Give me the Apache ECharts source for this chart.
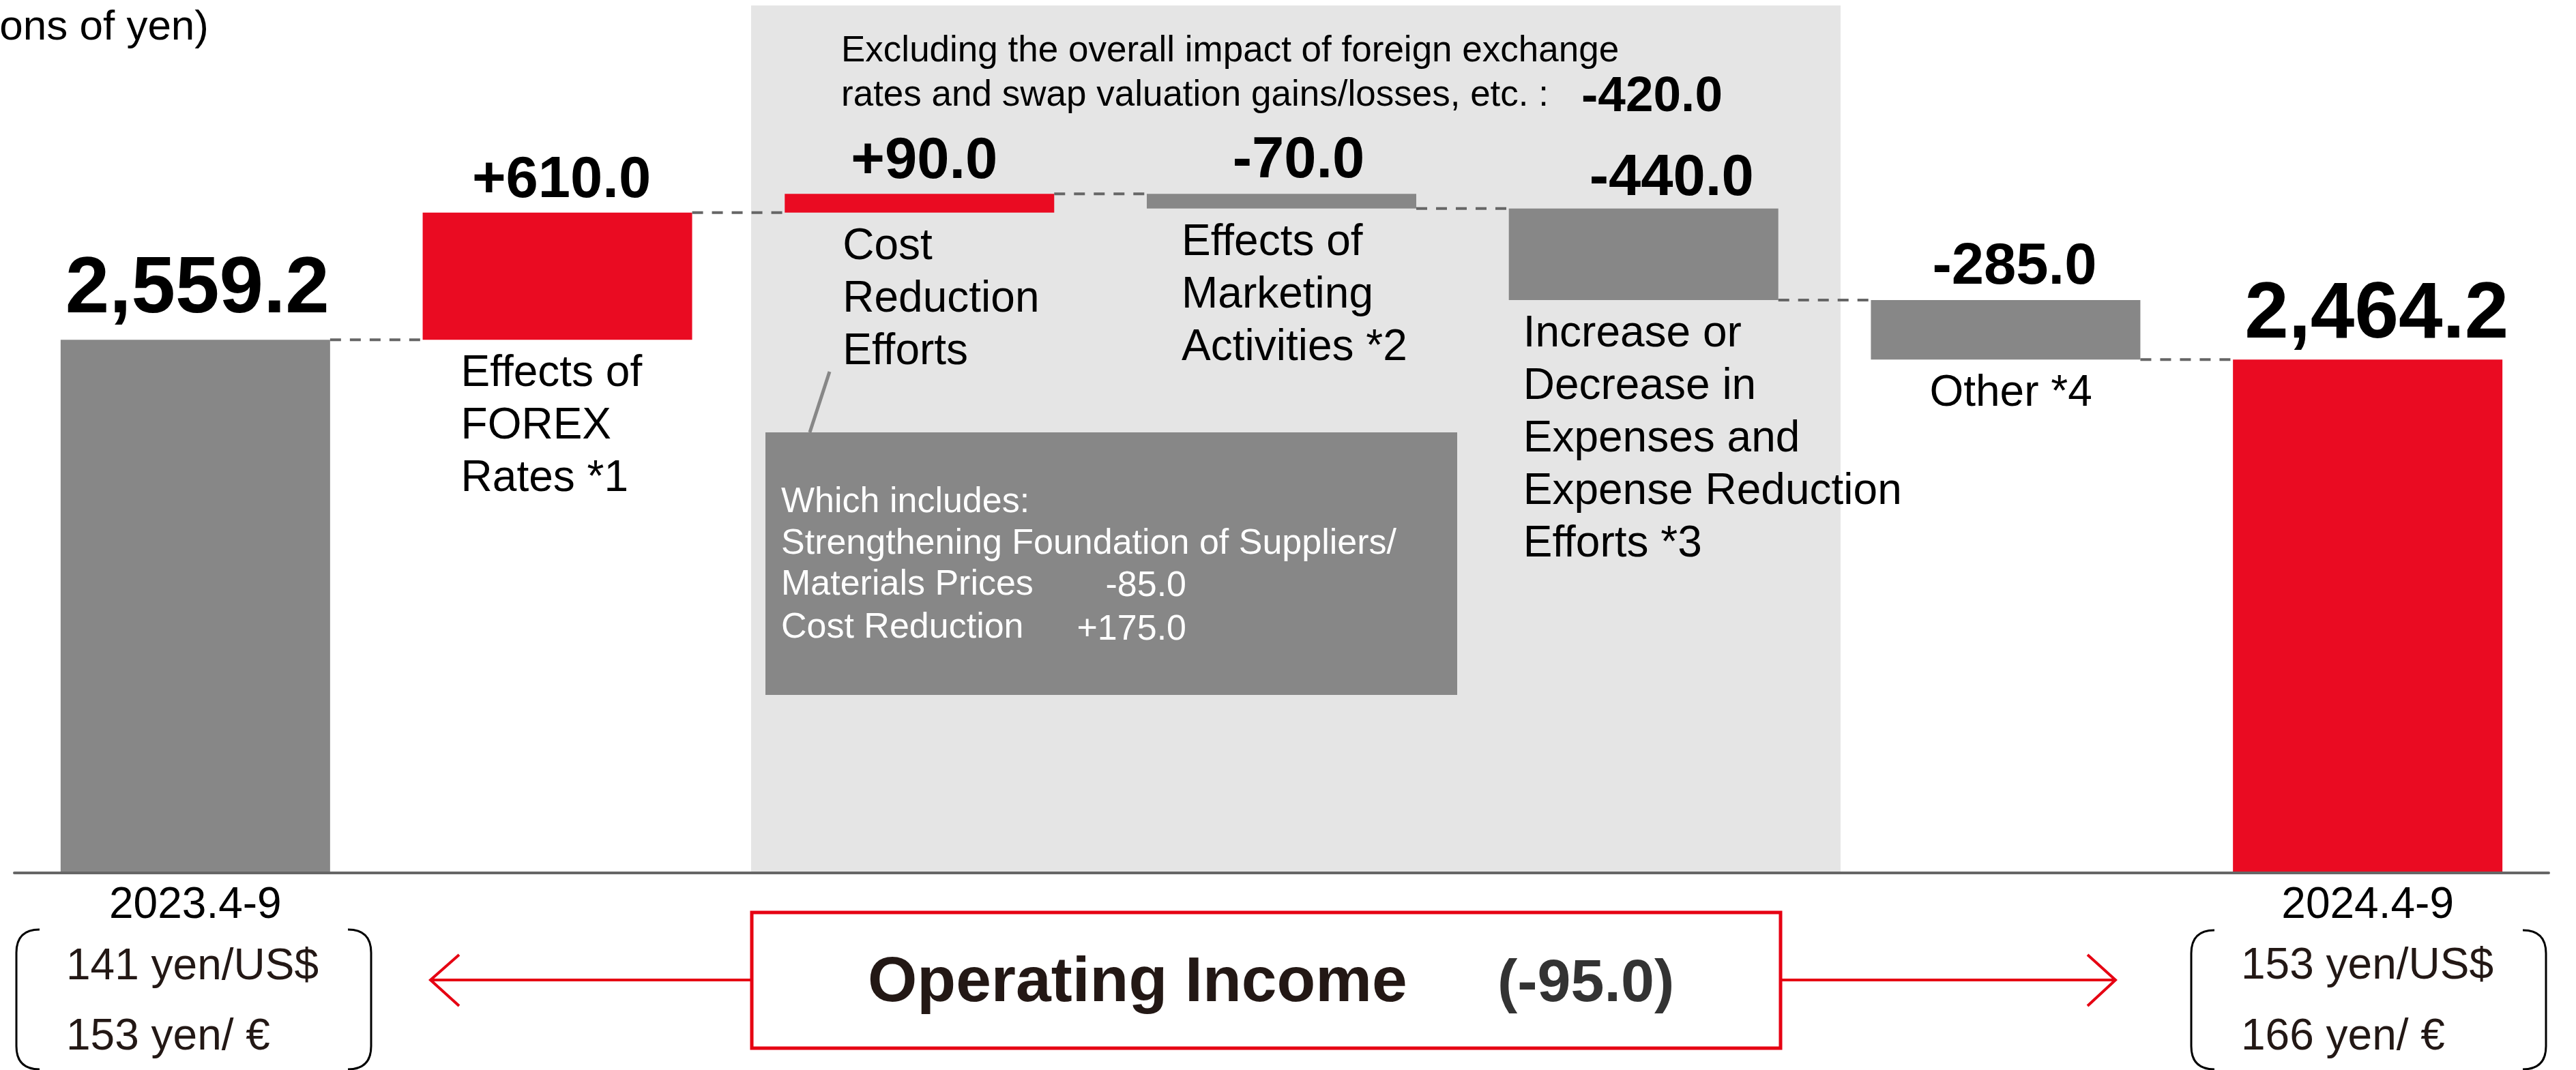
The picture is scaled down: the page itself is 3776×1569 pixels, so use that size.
<!DOCTYPE html>
<html>
<head>
<meta charset="utf-8">
<script src="https://cdn.jsdelivr.net/npm/echarts@6/dist/echarts.min.js"></script>
<style>
html, body { margin: 0; padding: 0; background: #fff; }
#chart { width: 3776px; height: 1569px; }
</style>
</head>
<body>
<div id="chart"></div>
<script>
// data
var periods = ['2023.4-9', '2024.4-9'];
var factors = ['Effects of\nFOREX\nRates *1', 'Cost\nReduction\nEfforts', 'Effects of\nMarketing\nActivities *2',
	'Increase or\nDecrease in\nExpenses and\nExpense Reduction\nEfforts *3', 'Other *4'];
var startValue = 2559.2;
var endValue = 2464.2;
var changes = [610.0, 90.0, -70.0, -440.0, -285.0];
var excludingFx = -420.0;
var costItems = ['Strengthening Foundation of Suppliers/\nMaterials Prices', 'Cost Reduction'];
var costValues = [-85.0, 175.0];
var rates2023 = ['141 yen/US$', '153 yen/ €'];
var rates2024 = ['153 yen/US$', '166 yen/ €'];

var FONT = '"Liberation Sans", Arial, sans-serif';
var RED = '#EA0B22';
var GRAY = '#878787';
var BAR_W = 395;

// label nudges (px)
var valueDx = [3, 6, 7, 25, 41, 13, 13];
var valueDy = [-14, -4, -4, -5, -1, -5, -6];
var nameDx = [56, 85, 51, 21, 86];

var categories = [periods[0]].concat(factors, [periods[1]]);

function fmt(v, signed) {
	var s = Math.abs(v).toFixed(1).replace(/\B(?=(\d{3})+(?!\d))/g, ',');
	if (signed) return (v < 0 ? '-' : '+') + s;
	return s;
}

var baseData = [];
var visData = [];
var links = [];
var cum = startValue;

baseData.push({value: 0, label: {show: false}});
visData.push({
	value: startValue,
	itemStyle: {color: GRAY},
	label: {show: true, formatter: fmt(startValue), fontSize: 116, lineHeight: 116, fontWeight: 'bold',
		position: [BAR_W / 2 + valueDx[0], valueDy[0]]}
});
links.push([0, cum]);

for (var i = 0; i < changes.length; i++) {
	var d = changes[i];
	var base = d > 0 ? cum : cum + d;
	baseData.push({
		value: base,
		label: {show: true, formatter: factors[i], position: [nameDx[i], 12],
			align: 'left', verticalAlign: 'top', fontSize: 64, lineHeight: 77, color: '#000'}
	});
	visData.push({
		value: Math.abs(d),
		itemStyle: {color: d > 0 ? RED : GRAY},
		label: {show: true, formatter: fmt(d, true), fontSize: 85, lineHeight: 85, fontWeight: 'bold',
			position: [BAR_W / 2 + valueDx[i + 1], valueDy[i + 1]]}
	});
	cum = cum + d;
	links.push([i + 1, cum]);
}

baseData.push({value: 0, label: {show: false}});
visData.push({
	value: endValue,
	itemStyle: {color: RED},
	label: {show: true, formatter: fmt(endValue), fontSize: 116, lineHeight: 116, fontWeight: 'bold',
		position: [BAR_W / 2 + valueDx[6], valueDy[6]]}
});

function txt(x, baseline, s, size, o) {
	o = o || {};
	return {
		type: 'text', x: x, y: baseline - 0.33 * size, z: 20,
		style: {text: s, fontSize: size, fontFamily: FONT, fontWeight: o.bold ? 'bold' : 'normal',
			fill: o.color || '#000', align: o.align || 'left', verticalAlign: 'middle'}
	};
}

// rounded "( )" brackets round the exchange rates
function bracket(x1, x2, y1, y2) {
	var r = 34;
	var st = {stroke: '#000', lineWidth: 3, fill: null};
	var out = [];
	[[x1, 1], [x2, -1]].forEach(function(p) {
		var x = p[0], s = p[1];
		out.push({type: 'bezierCurve', z: 20, shape: {x1: x + s * r, y1: y1, cpx1: x, cpy1: y1, x2: x, y2: y1 + r}, style: st});
		out.push({type: 'line', z: 20, shape: {x1: x, y1: y1 + r, x2: x, y2: y2 - r}, style: st});
		out.push({type: 'bezierCurve', z: 20, shape: {x1: x, y1: y2 - r, cpx1: x, cpy1: y2, x2: x + s * r, y2: y2}, style: st});
	});
	return out;
}

var cLines = costItems[0].split('\n');
var graphics = [
	{type: 'rect', z: -10, shape: {x: 1101, y: 8, width: 1597, height: 1274}, style: {fill: '#E5E5E5'}},
	txt(306, 61, '(Billions of yen)', 62, {align: 'right'}),
	txt(1233, 93, 'Excluding the overall impact of foreign exchange', 53),
	txt(1233, 158, 'rates and swap valuation gains/losses, etc. :', 53),
	txt(2318, 167, fmt(excludingFx, true), 73, {bold: true}),
	{type: 'line', z: 20, shape: {x1: 1216, y1: 545, x2: 1187, y2: 634}, style: {stroke: GRAY, lineWidth: 5}},
	{type: 'rect', z: 15, shape: {x: 1122, y: 634, width: 1014, height: 385}, style: {fill: GRAY}},
	txt(1145, 754, 'Which includes:', 52, {color: '#fff'}),
	txt(1145, 815, cLines[0], 52, {color: '#fff'}),
	txt(1145, 875, cLines[1], 52, {color: '#fff'}),
	txt(1145, 938, costItems[1], 52, {color: '#fff'}),
	txt(1739, 877, fmt(costValues[0], true), 52, {color: '#fff', align: 'right'}),
	txt(1739, 941, fmt(costValues[1], true), 52, {color: '#fff', align: 'right'}),
	// operating income box and arrows
	{type: 'rect', z: 20, shape: {x: 1102, y: 1338, width: 1508, height: 199}, style: {fill: '#fff', stroke: '#E60012', lineWidth: 5}},
	txt(1272, 1473, 'Operating Income', 93, {bold: true, color: '#231815'}),
	txt(2195, 1473, '(' + fmt(endValue - startValue, true) + ')', 88, {bold: true, color: '#333'}),
	{type: 'line', z: 20, shape: {x1: 630, y1: 1437, x2: 1102, y2: 1437}, style: {stroke: '#E60012', lineWidth: 4}},
	{type: 'polyline', z: 20, shape: {points: [[673, 1400], [631, 1437], [673, 1475]]}, style: {stroke: '#E60012', lineWidth: 4, fill: null}},
	{type: 'line', z: 20, shape: {x1: 2610, y1: 1437, x2: 3102, y2: 1437}, style: {stroke: '#E60012', lineWidth: 4}},
	{type: 'polyline', z: 20, shape: {points: [[3060, 1400], [3101, 1437], [3060, 1475]]}, style: {stroke: '#E60012', lineWidth: 4, fill: null}},
	txt(97, 1439, rates2023[0], 64, {color: '#231815'}),
	txt(97, 1542, rates2023[1], 64, {color: '#231815'}),
	txt(3285, 1438, rates2024[0], 64, {color: '#231815'}),
	txt(3285, 1542, rates2024[1], 64, {color: '#231815'})
].concat(bracket(24, 544, 1363, 1568), bracket(3212, 3732, 1364, 1568));

var myChart = echarts.init(document.getElementById('chart'));
myChart.setOption({
	animation: false,
	backgroundColor: '#fff',
	textStyle: {fontFamily: FONT},
	grid: {left: 21, right: 40, top: 58, bottom: 289, containLabel: false},
	xAxis: {
		type: 'category',
		data: categories,
		axisTick: {show: false},
		axisLine: {show: true, lineStyle: {color: '#666', width: 4}},
		axisLabel: {
			interval: 0, margin: 16, fontSize: 64, lineHeight: 64, color: '#000', fontFamily: FONT,
			formatter: function(v, idx) {
				return (idx === 0 || idx === categories.length - 1) ? v : '';
			}
		},
		z: 5
	},
	yAxis: {type: 'value', min: 0, max: 4000, show: false},
	series: [
		{
			name: 'base', type: 'bar', stack: 'w', barWidth: BAR_W, silent: true,
			itemStyle: {color: 'transparent'},
			label: {fontFamily: FONT},
			data: baseData
		},
		{
			name: 'change', type: 'bar', stack: 'w', barWidth: BAR_W, silent: true,
			label: {fontFamily: FONT, color: '#000', align: 'center', verticalAlign: 'bottom'},
			data: visData
		},
		{
			type: 'custom', silent: true, z: 3,
			renderItem: function(params, api) {
				var a = api.coord([api.value(0), api.value(1)]);
				var b = api.coord([api.value(0) + 1, api.value(1)]);
				return {
					type: 'line',
					shape: {x1: a[0] + BAR_W / 2, y1: a[1], x2: b[0] - BAR_W / 2, y2: a[1]},
					style: {stroke: '#666', lineWidth: 4, lineDash: [16, 13]}
				};
			},
			data: links
		}
	],
	graphic: {elements: graphics}
});
</script>
</body>
</html>
